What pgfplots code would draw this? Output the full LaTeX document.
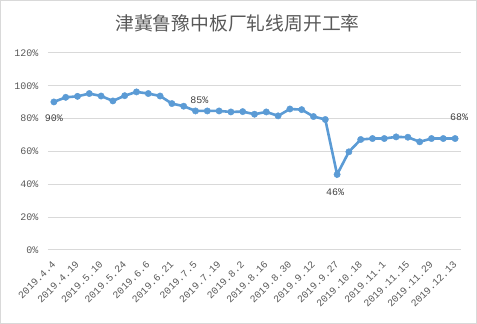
\documentclass[border=0pt]{standalone}
\usepackage{fontspec}
\setmainfont{Liberation Mono}
\newfontfamily\cjk{Noto Sans CJK SC}
\usepackage{pgfplots}
\pgfplotsset{compat=1.18}
\definecolor{lineblue}{HTML}{5B9BD5}
\definecolor{txtgray}{HTML}{595959}
\definecolor{lblgray}{HTML}{404040}
\definecolor{gridgray}{HTML}{D9D9D9}
\pgfplotstableread{
x y
0 90.2
1 93.0
2 93.6
3 95.3
4 93.8
5 90.8
6 94.0
7 96.3
8 95.3
9 93.8
10 89.2
11 87.6
12 84.7
13 84.7
14 84.7
15 84.1
16 84.3
17 82.7
18 84.1
19 81.7
20 85.9
21 85.5
22 81.3
23 79.5
24 46.0
25 59.8
26 67.3
27 67.9
28 67.9
29 68.9
30 68.7
31 65.9
32 67.9
33 67.9
34 67.9
}\datatable
\begin{document}
\begin{tikzpicture}[x=1pt,y=1pt]
\useasboundingbox (-48,-74) rectangle (429,250);
\draw[gridgray, line width=1pt] (-47.5,-73.5) rectangle (428.5,249.5);
\node[text=txtgray, font=\fontsize{18.8}{20}\selectfont\cjk] at (189.5,227) {津冀鲁豫中板厂轧线周开工率};
\begin{axis}[
  at={(0,0)}, anchor=south west,
  width=413pt, height=197pt, scale only axis,
  xmin=-0.5, xmax=34.5, ymin=0, ymax=120,
  axis line style={draw=none},
  major tick length=0pt,
  ymajorgrids, grid style={gridgray, line width=1pt},
  ytick={0,20,40,60,80,100,120},
  yticklabels={0\%,20\%,40\%,60\%,80\%,100\%,120\%},
  yticklabel style={text=txtgray, font=\fontsize{10}{12}\selectfont, xshift=-6pt},
  xtick={0,2,...,34},
  xticklabels={2019.4.4,2019.4.19,2019.5.10,2019.5.24,2019.6.6,2019.6.21,2019.7.5,2019.7.19,2019.8.2,2019.8.16,2019.8.30,2019.9.12,2019.9.27,2019.10.18,2019.11.1,2019.11.15,2019.11.29,2019.12.13},
  xticklabel style={text=txtgray, font=\fontsize{10}{12}\selectfont, rotate=45, anchor=east, inner sep=0pt},
  xticklabel shift=13pt,
  clip=false,
]
\addplot[lineblue, line width=2.6pt, mark=*, mark size=3.2pt, mark options={solid, fill=lineblue, draw=lineblue, line width=0.4pt}] table[x=x,y=y] {\datatable};
\node[text=lblgray, font=\fontsize{10}{12}\selectfont] at (axis cs:0,90.2) [yshift=-16pt] {90\%};
\node[text=lblgray, font=\fontsize{10}{12}\selectfont] at (axis cs:12,84.7) [yshift=11pt, xshift=4pt] {85\%};
\node[text=lblgray, font=\fontsize{10}{12}\selectfont] at (axis cs:24,46.0) [yshift=-18pt, xshift=-2pt] {46\%};
\node[text=lblgray, font=\fontsize{10}{12}\selectfont] at (axis cs:34,67.9) [yshift=21pt, xshift=4pt] {68\%};
\end{axis}
\end{tikzpicture}
\end{document}
